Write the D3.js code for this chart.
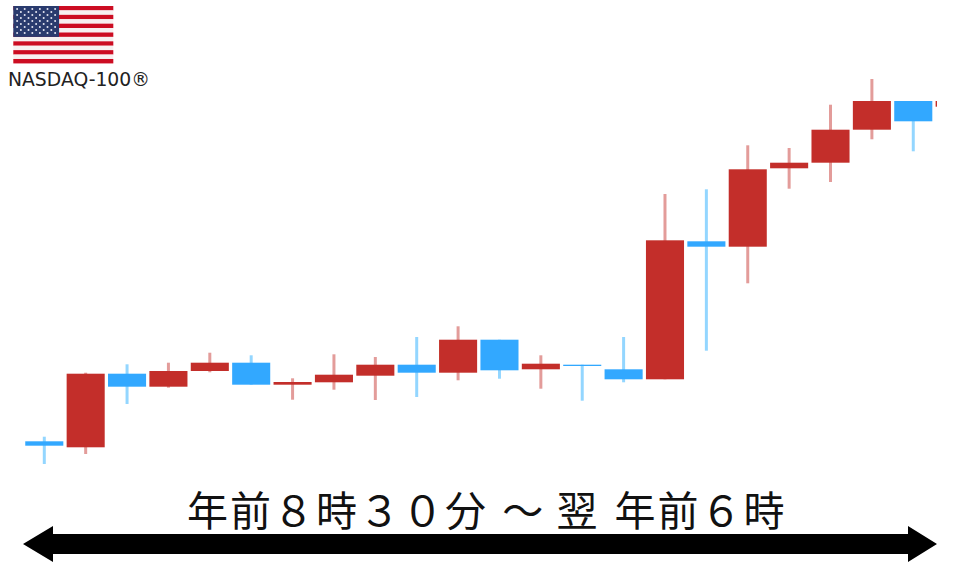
<!DOCTYPE html>
<html>
<head>
<meta charset="utf-8">
<script src="https://cdn.jsdelivr.net/npm/d3@7"></script>
<style>
html, body { margin: 0; padding: 0; background: #fff; }
svg { display: block; }
</style>
</head>
<body>
<div id="chart"></div>
<script>
// hourly sessions, price level (arbitrary units, no axis in the original)
var sessions = ["08:30", "09:30", "10:30", "11:30", "12:30", "13:30", "14:30", "15:30", "16:30", "17:30", "18:30", "19:30",
    "20:30", "21:30", "22:30", "23:30", "00:30", "01:30", "02:30", "03:30", "04:30", "05:30", "06:30"];
var opens = [58.7, 52.7, 126.3, 113.3, 129, 137.3, 115.3, 117.7, 124.3, 135.3, 127.3, 160.3,
    130.7, 135.3, 130.7, 120.7, 258.7, 253.3, 331.7, 337.3, 370.3, 399, 393.3];
var closes = [54.3, 126.3, 113.3, 129, 137.3, 115.3, 118, 125.3, 135.3, 127.3, 160.3, 129.7,
    136.3, 134, 120.7, 259.7, 253.3, 330.7, 337.3, 370.3, 399, 378.7, 399];
var highs = [63.3, 127.3, 135.7, 137.3, 147.3, 144.7, 121.7, 145.7, 143, 163, 173.7, 160.3,
    144.7, 135.3, 163, 306, 310.7, 354.7, 352, 395.3, 421, 399, 399];
var lows = [36, 46, 96, 112.3, 127.7, 115.3, 100.3, 110.3, 100, 103, 119.7, 121.3,
    111.3, 99.3, 117.7, 120.7, 149.3, 216.7, 311.3, 318, 360.7, 348.7, 393.3];

var titleParts = ["年前８時３０分 ", "～ ", "翌 ", "年前６時"];
var titleGaps = [0, 3, 0, 4];
var indexName = "NASDAQ-100®";

var width = 960, height = 567;
var upColor = "#c32f2a", downColor = "#33a8ff";
var upWick = "#e39c9a", downWick = "#93d6ff";

var svg = d3.select("#chart")
    .append("svg")
    .attr("width", width)
    .attr("height", height);

var defs = svg.append("defs");
defs.append("filter").attr("id", "soft")
    .append("feGaussianBlur").attr("stdDeviation", 0.55);
defs.append("clipPath").attr("id", "plotClip")
    .append("rect")
    .attr("x", 0).attr("y", 0)
    .attr("width", 937).attr("height", height);

var step = 41.38;
var x = d3.scaleBand()
    .domain(sessions)
    .range([23.6, 23.6 + step * sessions.length])
    .paddingInner(0.08)
    .paddingOuter(0.04);

var y = d3.scaleLinear()
    .domain([0, 500])
    .range([500, 0]);

var candles = svg.append("g")
    .attr("clip-path", "url(#plotClip)")
    .append("g")
    .attr("filter", "url(#soft)")
    .selectAll("g")
    .data(sessions)
    .enter()
    .append("g");

// wicks go underneath the bodies
candles.append("line")
    .attr("x1", function (d) { return x(d) + x.bandwidth() / 2; })
    .attr("x2", function (d) { return x(d) + x.bandwidth() / 2; })
    .attr("y1", function (d, i) { return y(highs[i]); })
    .attr("y2", function (d, i) { return y(lows[i]); })
    .attr("stroke", function (d, i) { return closes[i] >= opens[i] ? upWick : downWick; })
    .attr("stroke-width", 3);

candles.append("rect")
    .attr("x", function (d) { return x(d); })
    .attr("width", x.bandwidth())
    .attr("y", function (d, i) { return y(Math.max(opens[i], closes[i])); })
    .attr("height", function (d, i) { return Math.abs(y(opens[i]) - y(closes[i])); })
    .attr("fill", function (d, i) { return closes[i] >= opens[i] ? upColor : downColor; });

// flag
var flag = svg.append("g")
    .attr("transform", "translate(13.3,6)")
    .attr("filter", "url(#soft)");
var flagW = 100, flagH = 57.4, stripeH = flagH / 13;

flag.selectAll(".stripe")
    .data(d3.range(13))
    .enter()
    .append("rect")
    .attr("class", "stripe")
    .attr("x", 0)
    .attr("y", function (d) { return d * stripeH; })
    .attr("width", flagW)
    .attr("height", stripeH)
    .attr("fill", function (d) { return d % 2 ? "#f7f1f1" : "#cc0a20"; });

flag.append("rect")
    .attr("width", 45.8)
    .attr("height", stripeH * 7)
    .attr("fill", "#2b3a6e");

d3.range(9).forEach(function (row) {
    var count = row % 2 ? 5 : 6;
    flag.selectAll(".star" + row)
        .data(d3.range(count))
        .enter()
        .append("circle")
        .attr("cx", function (d) { return 3.8 + (row % 2 ? 3.8 : 0) + d * 7.6; })
        .attr("cy", 3 + row * 3)
        .attr("r", 1)
        .attr("fill", "#e6e8f2");
});

svg.append("text")
    .attr("x", 8)
    .attr("y", 86)
    .attr("font-family", "'DejaVu Sans', sans-serif")
    .attr("font-size", 19)
    .attr("textLength", 142)
    .attr("lengthAdjust", "spacingAndGlyphs")
    .attr("fill", "#222")
    .text(indexName);

svg.append("text")
    .attr("x", 187)
    .attr("y", 526)
    .attr("font-family", "'Noto Sans CJK JP', sans-serif")
    .attr("font-size", 41)
    .attr("letter-spacing", 2)
    .attr("fill", "#111")
    .attr("xml:space", "preserve")
    .style("white-space", "pre")
    .selectAll("tspan")
    .data(titleParts)
    .enter()
    .append("tspan")
    .attr("dx", function (d, i) { return titleGaps[i]; })
    .text(function (d) { return d; });

// double headed arrow under the title
var arrow = d3.path();
arrow.moveTo(23, 544);
arrow.lineTo(53, 526);
arrow.lineTo(53, 534);
arrow.lineTo(908, 534);
arrow.lineTo(908, 526);
arrow.lineTo(937, 544);
arrow.lineTo(908, 562);
arrow.lineTo(908, 554);
arrow.lineTo(53, 554);
arrow.lineTo(53, 562);
arrow.closePath();

svg.append("path")
    .attr("d", arrow.toString())
    .attr("fill", "#000");
</script>
</body>
</html>
